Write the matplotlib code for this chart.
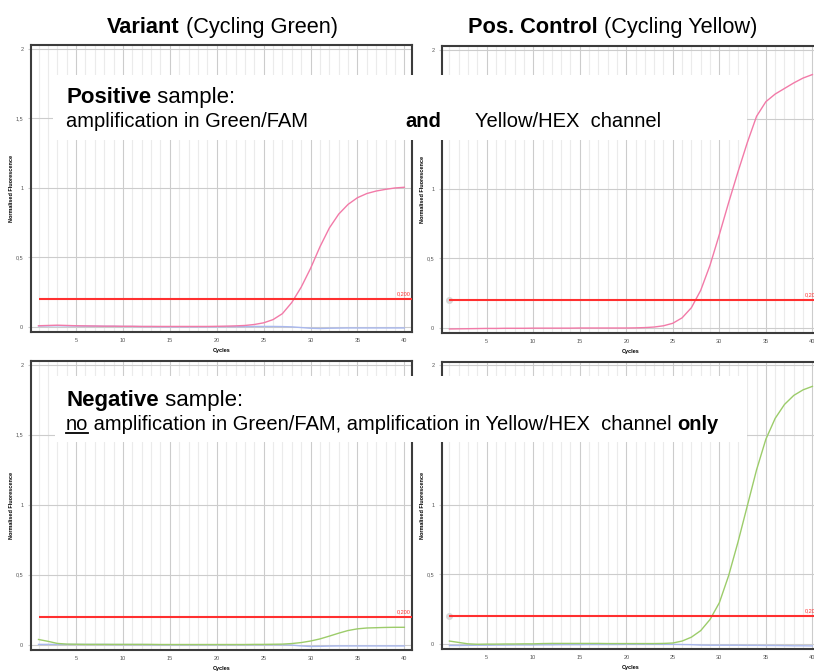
import numpy as np
import matplotlib
matplotlib.use('Agg')
import matplotlib.pyplot as plt
from matplotlib.patches import Rectangle
from matplotlib.lines import Line2D
from matplotlib.ticker import FixedLocator

plt.rcParams['font.family'] = ['Liberation Sans', 'DejaVu Sans']

# ---- data ----
cycles = np.arange(1, 41)
threshold = 0.2
threshold_label = '0,200'
x_ticks = [5, 10, 15, 20, 25, 30, 35, 40]
y_ticks = [0, 0.5, 1, 1.5, 2]
y_tick_labels = ['0', '0,5', '1', '1,5', '2']

# positive sample, Green/FAM (variant)
pos_green_sample = [0.008, 0.010, 0.012, 0.010, 0.008, 0.007, 0.006, 0.005, 0.005, 0.004,
                    0.004, 0.003, 0.003, 0.003, 0.003, 0.003, 0.003, 0.003, 0.003, 0.004,
                    0.005, 0.007, 0.010, 0.017, 0.029, 0.052, 0.095, 0.175, 0.285, 0.420,
                    0.575, 0.710, 0.810, 0.880, 0.928, 0.958, 0.976, 0.988, 0.998, 1.003]
pos_green_blank = [0.006, 0.007, 0.008, 0.007, 0.006, 0.005, 0.005, 0.004, 0.004, 0.003,
                   0.003, 0.002, 0.002, 0.001, 0.001, 0.001, 0.001, 0.001, 0.001, 0.001,
                   0.002, 0.002, 0.002, 0.003, 0.003, 0.003, 0.002, 0.000, -0.005, -0.010,
                   -0.012, -0.010, -0.009, -0.008, -0.008, -0.008, -0.008, -0.008, -0.008, -0.008]
# positive sample, Yellow/HEX (positive control)
pos_yellow_sample = [-0.008, -0.007, -0.006, -0.005, -0.004, -0.004, -0.003, -0.003, -0.003, -0.002,
                     -0.002, -0.002, -0.002, -0.002, -0.001, -0.001, -0.001, -0.001, -0.001, -0.001,
                     0.000, 0.002, 0.006, 0.015, 0.033, 0.072, 0.145, 0.270, 0.450, 0.670,
                     0.900, 1.120, 1.330, 1.520, 1.625, 1.680, 1.720, 1.760, 1.795, 1.820]
# negative sample, Green/FAM
neg_green_sample = [0.038, 0.025, 0.010, 0.005, 0.004, 0.003, 0.003, 0.003, 0.003, 0.003,
                    0.003, 0.003, 0.003, 0.002, 0.002, 0.002, 0.002, 0.002, 0.002, 0.002,
                    0.002, 0.002, 0.002, 0.003, 0.003, 0.004, 0.005, 0.009, 0.016, 0.027,
                    0.042, 0.062, 0.083, 0.102, 0.114, 0.120, 0.122, 0.124, 0.125, 0.125]
neg_green_blank = [0.003, 0.003, 0.003, 0.003, 0.003, 0.003, 0.003, 0.003, 0.002, 0.002,
                   0.002, 0.002, 0.001, 0.001, 0.001, 0.001, 0.001, 0.001, 0.001, 0.001,
                   0.001, 0.001, 0.001, 0.001, 0.001, 0.001, 0.000, -0.002, -0.008, -0.012,
                   -0.011, -0.009, -0.008, -0.008, -0.008, -0.008, -0.008, -0.008, -0.008, -0.008]
# negative sample, Yellow/HEX
neg_yellow_sample = [0.020, 0.010, 0.000, -0.003, -0.002, -0.002, -0.001, -0.001, 0.000, 0.000,
                     0.002, 0.003, 0.003, 0.003, 0.003, 0.003, 0.003, 0.002, 0.002, 0.002,
                     0.002, 0.002, 0.002, 0.003, 0.006, 0.020, 0.048, 0.095, 0.175, 0.295,
                     0.490, 0.730, 0.990, 1.250, 1.470, 1.620, 1.720, 1.785, 1.825, 1.850]
neg_yellow_blank = [-0.012, -0.012, -0.011, -0.010, -0.010, -0.009, -0.009, -0.008, -0.008, -0.008,
                    -0.007, -0.007, -0.006, -0.006, -0.006, -0.005, -0.005, -0.005, -0.005, -0.004,
                    -0.004, -0.004, -0.004, -0.004, -0.004, -0.005, -0.006, -0.009, -0.010, -0.010,
                    -0.010, -0.010, -0.011, -0.011, -0.012, -0.012, -0.013, -0.014, -0.014, -0.015]

PINK = '#f27aa8'
GREEN = '#9ccc6a'
BLUE = '#a9b8ee'
RED = '#ff3030'


def draw_panel(ax, lines, handle=False):
    ax.set_xlim(0.2, 40.82)
    ax.set_ylim(-0.037, 2.025)
    ax.xaxis.set_major_locator(FixedLocator(x_ticks))
    ax.xaxis.set_minor_locator(FixedLocator(cycles))
    ax.set_yticks(y_ticks)
    ax.set_yticklabels(y_tick_labels)
    ax.grid(which='minor', axis='x', color='#ebebeb', lw=0.8)
    ax.grid(which='major', color='#cccccc', lw=0.8)
    ax.set_axisbelow(True)
    ax.tick_params(axis='x', which='both', length=0, labelsize=4, labelcolor='#555555', pad=4)
    ax.tick_params(axis='y', length=2.5, color='#cccccc', labelsize=4, labelcolor='#555555', pad=3)
    for sp in ax.spines.values():
        sp.set_color('#3c3c3c')
        sp.set_linewidth(1.5)
    ax.set_ylabel('Normalised Fluorescence', fontsize=4, fontweight='bold')
    ax.yaxis.set_label_coords(-0.045, 0.5)
    ax.set_xlabel('Cycles', fontsize=4, fontweight='bold')
    ax.xaxis.set_label_coords(0.5, -0.055)

    for vals, col in lines:
        ax.plot(cycles, vals, color=col, lw=1.0)

    xmax = ax.get_xlim()[1]
    ax.hlines(threshold, cycles[0], xmax, color=RED, lw=1.5, zorder=3)
    if handle:
        ax.plot(cycles[0], threshold, marker='o', ms=4, color='#d8d8d8', zorder=2)
    ax.text(xmax - 0.15, threshold + 0.02, threshold_label, color=RED, fontsize=4,
            ha='right', va='bottom')


def rich_text(fig, x, y, parts, size):
    # parts: (text, weight, underline) drawn one after another on a baseline
    r = fig.canvas.get_renderer()
    for s, weight, underline in parts:
        t = fig.text(x, y, s, fontsize=size, fontweight=weight, va='baseline',
                     ha='left', zorder=6)
        w = t.get_window_extent(renderer=r).width / fig.bbox.width
        if underline:
            fig.add_artist(Line2D([x, x + w], [y - 0.005, y - 0.005], transform=fig.transFigure,
                                  color='black', lw=1.3, zorder=6))
        x += w


fig = plt.figure(figsize=(8.14, 6.71), dpi=100)

ax_tl = fig.add_axes([0.0381, 0.5052, 0.4681, 0.4277])
ax_tr = fig.add_axes([0.5430, 0.5037, 0.4644, 0.4277])
ax_bl = fig.add_axes([0.0381, 0.0313, 0.4681, 0.4307])
ax_br = fig.add_axes([0.5430, 0.0328, 0.4644, 0.4277])

draw_panel(ax_tl, [(pos_green_blank, BLUE), (pos_green_sample, PINK)])
draw_panel(ax_tr, [(pos_yellow_sample, PINK)], handle=True)
draw_panel(ax_bl, [(neg_green_blank, BLUE), (neg_green_sample, GREEN)])
draw_panel(ax_br, [(neg_yellow_blank, BLUE), (neg_yellow_sample, GREEN)], handle=True)

# column titles
title_size = 15.7
rich_text(fig, 107 / 814, 1 - 33 / 671, [('Variant', 'bold', False),
                                        (' (Cycling Green)', 'normal', False)], title_size)
rich_text(fig, 468 / 814, 1 - 33 / 671, [('Pos. Control', 'bold', False),
                                        (' (Cycling Yellow)', 'normal', False)], title_size)

# white annotation boxes
fig.add_artist(Rectangle((53 / 814, 1 - 140 / 671), 694 / 814, 65 / 671, transform=fig.transFigure,
                         facecolor='white', edgecolor='none', zorder=5))
fig.add_artist(Rectangle((55 / 814, 1 - 442 / 671), 692 / 814, 66 / 671, transform=fig.transFigure,
                         facecolor='white', edgecolor='none', zorder=5))

head_size = 16
line_size = 14.5
rich_text(fig, 66 / 814, 1 - 103 / 671, [('Positive', 'bold', False),
                                        (' sample:', 'normal', False)], head_size)
rich_text(fig, 66 / 814, 1 - 127 / 671, [('amplification in Green/FAM', 'normal', False)], line_size)
rich_text(fig, 405 / 814, 1 - 127 / 671, [('and', 'bold', False)], line_size)
rich_text(fig, 475 / 814, 1 - 127 / 671, [('Yellow/HEX  channel', 'normal', False)], line_size)

rich_text(fig, 66 / 814, 1 - 406 / 671, [('Negative', 'bold', False),
                                        (' sample:', 'normal', False)], head_size)
rich_text(fig, 66 / 814, 1 - 430 / 671, [('no', 'normal', True),
                                        (' amplification in Green/FAM, amplification in Yellow/HEX  channel ',
                                         'normal', False),
                                        ('only', 'bold', False)], line_size)

fig.savefig('out.png', dpi=100)
